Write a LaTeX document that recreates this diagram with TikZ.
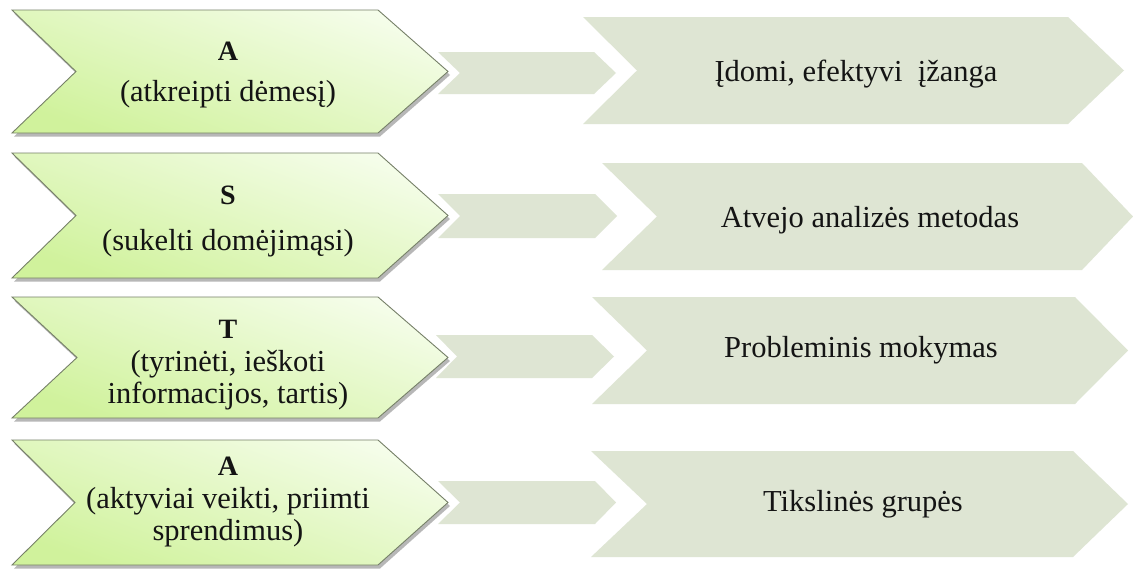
\documentclass[tikz,border=0pt]{standalone}
\usepackage{fontspec}
\setmainfont{Liberation Serif}
\usetikzlibrary{shadows}

\definecolor{leafTop}{RGB}{245,253,234}
\definecolor{leafBot}{RGB}{208,242,156}
\definecolor{leafLine}{RGB}{118,128,104}
\definecolor{sage}{RGB}{222,229,211}
\definecolor{ink}{RGB}{20,20,20}

\tikzset{
  stage/.style={draw=leafLine, line width=0.9pt, line join=miter,
    top color=leafTop, bottom color=leafBot, shading angle=-20,
    drop shadow={shadow xshift=2pt, shadow yshift=-3.5pt, opacity=0.4, fill=black!70}},
  linkbar/.style={fill=sage},
  goal/.style={fill=sage},
  body/.style={text=ink, font=\fontsize{30.5}{32}\selectfont, anchor=base, inner sep=0pt},
  head/.style={text=ink, font=\fontsize{28}{30}\selectfont\bfseries, anchor=base, inner sep=0pt}
}

% chevron: style, left x, notch x, shoulder x, tip x, top y, bottom y
\newcommand\chevron[7]{%
  \path[#1] (#2,#6) -- (#4,#6) -- (#5,{(#6+#7)/2}) -- (#4,#7) -- (#2,#7)
    -- (#3,{(#6+#7)/2}) -- cycle;}

\begin{document}
\begin{tikzpicture}[x=1pt,y=-1pt]
  \fill[white] (0,0) rectangle (1133,568);
  \useasboundingbox (0,0) rectangle (1133,568);

  % right-hand targets
  \chevron{goal}{583}{637}{1068}{1124}{17}{124}
  \chevron{goal}{602}{657}{1082}{1133}{163}{270}
  \chevron{goal}{592}{647}{1075}{1128}{297}{404}
  \chevron{goal}{591}{647}{1073}{1128}{451}{557}

  % small links between the columns
  \chevron{linkbar}{438}{460}{594}{616}{52}{94}
  \chevron{linkbar}{438}{460}{595}{617}{194}{238}
  \chevron{linkbar}{436}{457}{592}{614}{335}{378}
  \chevron{linkbar}{438}{460}{595}{616}{481}{524}

  % stages
  \chevron{stage}{12}{76}{378}{448}{10}{133}
  \chevron{stage}{12}{76}{378}{448}{153}{278}
  \chevron{stage}{12}{77}{378}{448}{297}{418}
  \chevron{stage}{12}{75}{378}{448}{440}{565}

  % stage labels
  \node[head] (h1) at (228,60) {A};
  \node[body] (t1) at (228,101) {(atkreipti dėmesį)};

  \node[head] (h2) at (228,204) {S};
  \node[body] (t2) at (228,250) {(sukelti domėjimąsi)};

  \node[head] (h3) at (228,338) {T};
  \node[body] (t3a) at (228,371) {(tyrinėti, ieškoti};
  \node[body] (t3b) at (228,403) {informacijos, tartis)};

  \node[head] (h4) at (228,475) {A};
  \node[body] (t4a) at (228,508) {(aktyviai veikti, priimti};
  \node[body] (t4b) at (228,540) {sprendimus)};

  % target labels
  \node[body] (g1) at (856,81) {Įdomi, efektyvi\ \ įžanga};
  \node[body] (g2) at (870,227) {Atvejo analizės metodas};
  \node[body] (g3) at (861,357) {Probleminis mokymas};
  \node[body] (g4) at (863,511) {Tikslinės grupės};
\end{tikzpicture}
\end{document}
